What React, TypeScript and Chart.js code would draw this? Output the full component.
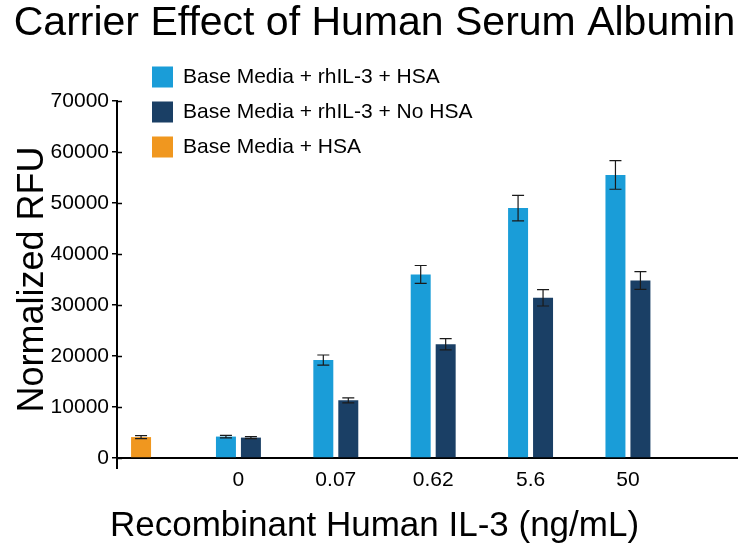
import React, { useEffect, useRef } from 'react';
import { Chart, registerables } from 'chart.js';

Chart.register(...registerables);

const TITLE = 'Carrier Effect of Human Serum Albumin';
const Y_TITLE = 'Normalized RFU';
const X_TITLE = 'Recombinant Human IL-3 (ng/mL)';

const CATEGORIES = ['', '0', '0.07', '0.62', '5.6', '50'];
const Y_TICKS = [0, 10000, 20000, 30000, 40000, 50000, 60000, 70000];

const SERIES_LABELS = [
  'Base Media + rhIL-3 + HSA',
  'Base Media + rhIL-3 + No HSA',
  'Base Media + HSA',
];
const SERIES_COLORS = ['#1a9dd8', '#1a3f65', '#f0971f'];

const HSA_VALUES = [null, 4200, 19200, 36000, 49000, 55500];
const HSA_ERRORS = [null, 250, 1000, 1750, 2500, 2800];
const NO_HSA_VALUES = [null, 4000, 11300, 22300, 31400, 34800];
const NO_HSA_ERRORS = [null, 200, 500, 1100, 1600, 1750];
const MEDIA_VALUES = [4100, null, null, null, null, null];
const MEDIA_ERRORS = [300, null, null, null, null, null];

const FONT = "'Liberation Sans', Arial, Helvetica, sans-serif";

function toPoints(values: (number | null)[], errors: (number | null)[]) {
  const pts: any[] = [];
  values.forEach((v, i) => {
    if (v != null) pts.push({ x: i, y: v, err: errors[i] });
  });
  return pts;
}

const extrasPlugin = {
  id: 'extras',
  afterDatasetsDraw(chart: any) {
    const ctx = chart.ctx;
    const y = chart.scales.y;
    ctx.save();
    ctx.strokeStyle = '#1a1a1a';
    ctx.lineWidth = 1.2;
    chart.data.datasets.forEach((ds: any, di: number) => {
      const meta = chart.getDatasetMeta(di);
      meta.data.forEach((bar: any, i: number) => {
        const pt = ds.data[i];
        if (!pt || pt.err == null) return;
        const top = y.getPixelForValue(pt.y + pt.err);
        const bot = y.getPixelForValue(pt.y - pt.err);
        const x = bar.x;
        const hw = 6;
        ctx.beginPath();
        ctx.moveTo(x, top);
        ctx.lineTo(x, bot);
        ctx.moveTo(x - hw, top);
        ctx.lineTo(x + hw, top);
        ctx.moveTo(x - hw, bot);
        ctx.lineTo(x + hw, bot);
        ctx.stroke();
      });
    });
    ctx.restore();
  },
  afterDraw(chart: any) {
    const ctx = chart.ctx;
    const area = chart.chartArea;
    const y = chart.scales.y;
    ctx.save();
    // inner half of the crossing y ticks
    ctx.strokeStyle = '#000';
    ctx.lineWidth = 1.5;
    Y_TICKS.forEach((v) => {
      const py = Math.round(y.getPixelForValue(v)) + 0.5;
      ctx.beginPath();
      ctx.moveTo(area.left, py);
      ctx.lineTo(area.left + 5, py);
      ctx.stroke();
    });
    // y axis extends below the x axis
    ctx.lineWidth = 2;
    ctx.beginPath();
    ctx.moveTo(Math.round(area.left), area.bottom);
    ctx.lineTo(Math.round(area.left), area.bottom + 11);
    ctx.stroke();
    // legend
    ctx.font = `21px ${FONT}`;
    ctx.textBaseline = 'middle';
    ctx.textAlign = 'left';
    chart.data.datasets.forEach((ds: any, i: number) => {
      const cy = area.top - 24.5 + i * 35;
      const bx = area.left + 35;
      ctx.fillStyle = ds.backgroundColor;
      ctx.fillRect(bx, cy - 10, 21, 21);
      ctx.fillStyle = '#000';
      ctx.fillText(ds.label, bx + 31, cy + 1);
    });
    ctx.restore();
  },
};

export default function App() {
  const canvasRef = useRef<HTMLCanvasElement | null>(null);

  useEffect(() => {
    if (!canvasRef.current) return;
    Chart.defaults.font.family = FONT;
    const chart = new Chart(canvasRef.current, {
      type: 'bar',
      data: {
        datasets: [
          {
            label: SERIES_LABELS[0],
            data: toPoints(HSA_VALUES, HSA_ERRORS),
            backgroundColor: SERIES_COLORS[0],
            categoryPercentage: 0.513,
            barPercentage: 0.8,
          },
          {
            label: SERIES_LABELS[1],
            data: toPoints(NO_HSA_VALUES, NO_HSA_ERRORS),
            backgroundColor: SERIES_COLORS[1],
            categoryPercentage: 0.513,
            barPercentage: 0.8,
          },
          {
            label: SERIES_LABELS[2],
            data: toPoints(MEDIA_VALUES, MEDIA_ERRORS),
            backgroundColor: SERIES_COLORS[2],
            grouped: false,
            maxBarThickness: 20,
            categoryPercentage: 0.513,
            barPercentage: 0.8,
          },
        ] as any,
      },
      options: {
        responsive: false,
        animation: false,
        layout: { padding: { left: 12, right: 1, top: 0, bottom: 0 } },
        plugins: {
          legend: { display: false },
          tooltip: { enabled: false },
          title: {
            display: true,
            text: TITLE,
            color: '#000',
            font: { size: 41, weight: 'normal', lineHeight: 1 },
            padding: { top: 3, bottom: 57 },
          },
          subtitle: {
            display: true,
            position: 'bottom',
            text: X_TITLE,
            color: '#000',
            font: { size: 35, weight: 'normal', lineHeight: 1 },
            padding: { top: 16, bottom: 4 },
          },
        },
        scales: {
          x: {
            type: 'linear',
            min: -0.247,
            max: 6.12,
            offset: false,
            grid: { display: false, drawTicks: false },
            border: { display: true, color: '#000', width: 2 },
            afterBuildTicks: (scale: any) => {
              scale.ticks = CATEGORIES.map((_, i) => ({ value: i }));
            },
            afterFit: (scale: any) => {
              scale.height = 35;
            },
            ticks: {
              autoSkip: false,
              maxRotation: 0,
              color: '#000',
              font: { size: 21 },
              padding: 10,
              callback: (v: any) => CATEGORIES[v] ?? '',
            },
          },
          y: {
            type: 'linear',
            min: 0,
            max: 70000,
            afterBuildTicks: (scale: any) => {
              scale.ticks = Y_TICKS.map((v) => ({ value: v }));
            },
            afterFit: (scale: any) => {
              scale.width = 105;
            },
            grid: {
              display: true,
              drawOnChartArea: false,
              drawTicks: true,
              tickLength: 5,
              color: '#000',
              lineWidth: 1.5,
            },
            border: { display: true, color: '#000', width: 2 },
            ticks: {
              color: '#000',
              font: { size: 21 },
              padding: 3,
              callback: (v: any) => String(v),
            },
            title: {
              display: true,
              text: Y_TITLE,
              color: '#000',
              font: { size: 36, weight: 'normal', lineHeight: 1 },
              padding: { top: 3, bottom: 0 },
            },
          },
        },
      } as any,
      plugins: [extrasPlugin],
    });
    return () => chart.destroy();
  }, []);

  return (
    <div style={{ position: 'fixed', left: 0, top: 0, width: 738, height: 548, background: '#fff' }}>
      <canvas ref={canvasRef} width={738} height={548} style={{ display: 'block' }} />
    </div>
  );
}
